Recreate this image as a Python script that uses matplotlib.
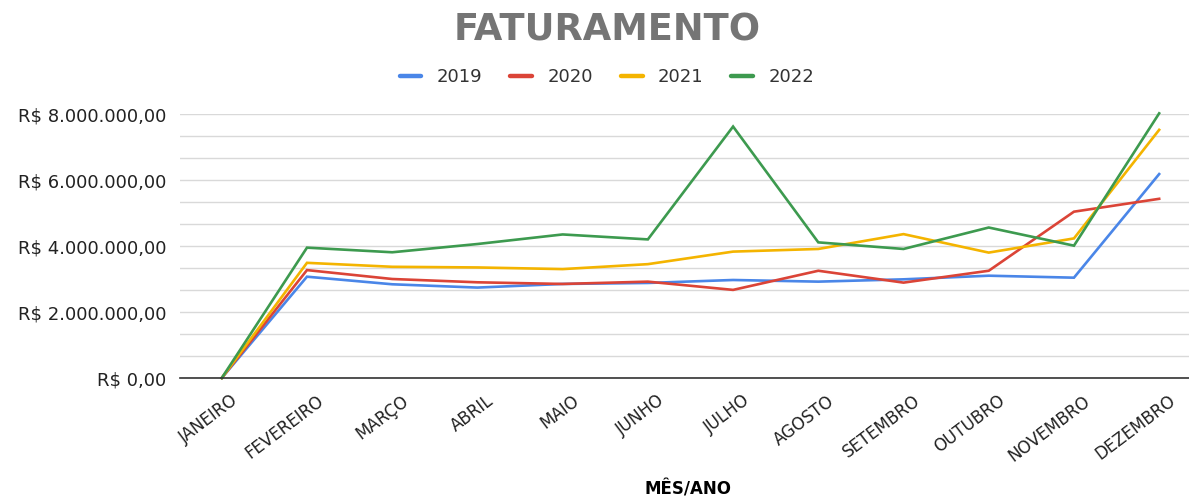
import matplotlib
matplotlib.use("Agg")
import matplotlib.pyplot as plt
from matplotlib.ticker import MultipleLocator, FixedLocator
from matplotlib.transforms import ScaledTranslation
from matplotlib.lines import Line2D

months = ["JANEIRO", "FEVEREIRO", "MARÇO", "ABRIL", "MAIO", "JUNHO", "JULHO",
          "AGOSTO", "SETEMBRO", "OUTUBRO", "NOVEMBRO", "DEZEMBRO"]
s2019 = [0, 3.07e6, 2.84e6, 2.74e6, 2.85e6, 2.88e6, 2.97e6, 2.92e6, 2.99e6, 3.10e6, 3.04e6, 6.18e6]
s2020 = [0, 3.27e6, 3.00e6, 2.90e6, 2.85e6, 2.92e6, 2.67e6, 3.25e6, 2.89e6, 3.25e6, 5.04e6, 5.43e6]
s2021 = [0, 3.49e6, 3.37e6, 3.35e6, 3.30e6, 3.45e6, 3.83e6, 3.91e6, 4.36e6, 3.80e6, 4.23e6, 7.52e6]
s2022 = [0, 3.95e6, 3.81e6, 4.06e6, 4.35e6, 4.20e6, 7.62e6, 4.11e6, 3.91e6, 4.56e6, 4.01e6, 8.02e6]
series_names = ["2019", "2020", "2021", "2022"]
series = [s2019, s2020, s2021, s2022]
colors = ["#4a86e8", "#db4437", "#f4b400", "#3d9a4f"]
yticks = [0, 2e6, 4e6, 6e6, 8e6]
ytick_labels = ["R$ 0,00", "R$ 2.000.000,00", "R$ 4.000.000,00", "R$ 6.000.000,00", "R$ 8.000.000,00"]

plt.rcParams['font.family'] = ['DejaVu Sans']

W, H = 1189, 499
fig = plt.figure(figsize=(W / 100, H / 100), dpi=100)
ax = fig.add_axes([180 / W, (H - 378) / H, (W - 180) / W, 264 / H])

x = list(range(len(months)))
for name, vals, c in zip(series_names, series, colors):
    ax.plot(x, vals, color=c, lw=1.9, label=name, clip_on=False, zorder=3,
            solid_joinstyle='miter')

ax.set_xlim(-0.49, 11.35)
ax.set_ylim(0, 8e6)
ax.yaxis.set_major_locator(FixedLocator(yticks))
ax.yaxis.set_minor_locator(MultipleLocator(2e6 / 3))
ax.set_yticklabels(ytick_labels, fontsize=13, color="#222222")
ax.grid(axis='y', which='both', color='#d9d9d9', lw=1)
ax.tick_params(axis='y', which='both', length=0, pad=10)
ax.set_axisbelow(True)
for s in ['top', 'right', 'left']:
    ax.spines[s].set_visible(False)
ax.spines['bottom'].set_color('#333333')
ax.spines['bottom'].set_linewidth(1.2)
ax.spines['bottom'].set_zorder(4)

ax.set_xticks(x)
ax.set_xticklabels(months, fontsize=12, color="#222222", rotation=37,
                   ha='right', va='top', rotation_mode='anchor')
ax.tick_params(axis='x', length=0, pad=10)
off = ScaledTranslation(9 / 100, 0, fig.dpi_scale_trans)
for lab in ax.get_xticklabels():
    lab.set_transform(lab.get_transform() + off)

fig.text(607 / W, 1 - 30 / H, "FATURAMENTO", fontsize=26.5, fontweight='bold',
         color='#757575', ha='center', va='center')

handles = [Line2D([0], [0], color=c, lw=3.2, solid_capstyle='round') for c in colors]
fig.legend(handles, series_names, loc='center', bbox_to_anchor=(607 / W, 1 - 77 / H),
           ncol=4, frameon=False, fontsize=13, handlelength=1.2, handletextpad=0.85,
           columnspacing=1.55, labelcolor='#333333')

fig.text(688 / W, (H - 490) / H, "MÊS/ANO", fontsize=12, fontweight='bold',
         color='black', ha='center', va='center')

fig.savefig("out.png", dpi=100)
